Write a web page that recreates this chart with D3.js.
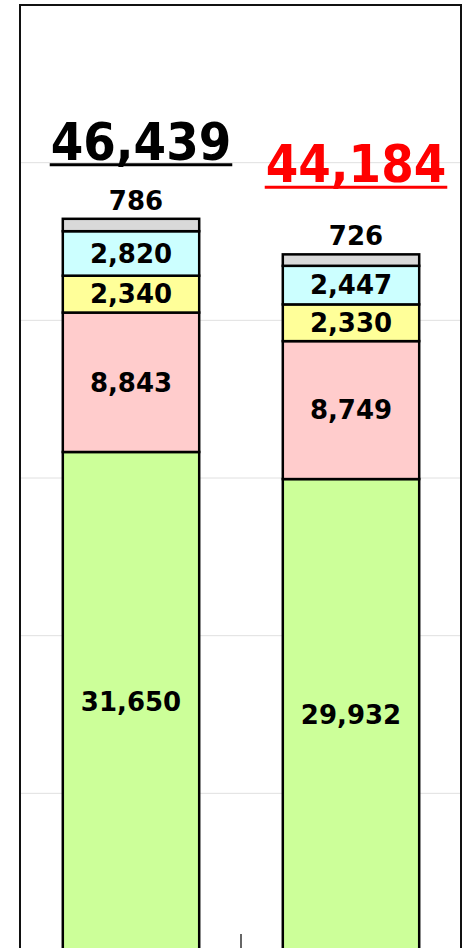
<!DOCTYPE html>
<html>
<head>
<meta charset="utf-8">
<script src="https://cdn.jsdelivr.net/npm/d3@7"></script>
<style>
  html, body { margin: 0; padding: 0; background: #fff; }
  svg { display: block; }
  text { font-family: "DejaVu Sans", sans-serif; font-weight: bold; }
  text.total { font-family: "DejaVu Sans Condensed", "DejaVu Sans", sans-serif; }
</style>
</head>
<body>
<div id="chart"></div>
<script>
// données
const categories = ['bar1', 'bar2'];
const seriesGreen = [31650, 29932];
const seriesPink = [8843, 8749];
const seriesYellow = [2340, 2330];
const seriesCyan = [2820, 2447];
const seriesGray = [786, 726];
const totals = [46439, 44184];
const yTicks = [0, 10000, 20000, 30000, 40000, 50000, 60000];

document.addEventListener('DOMContentLoaded', function () {
  const width = 465, height = 948;
  const plot = { left: 21, right: 461, top: 5, bottom: 951 };

  const svg = d3.select('#chart')
    .append('svg')
    .attr('width', width)
    .attr('height', height);

  const keys = ['green', 'pink', 'yellow', 'cyan', 'gray'];
  const colors = { green: '#ccff99', pink: '#ffcccc', yellow: '#ffff99', cyan: '#ccffff', gray: '#d9d9d9' };
  const rows = categories.map((c, i) => ({
    cat: c,
    green: seriesGreen[i],
    pink: seriesPink[i],
    yellow: seriesYellow[i],
    cyan: seriesCyan[i],
    gray: seriesGray[i]
  }));
  const stacked = d3.stack().keys(keys)(rows);

  const x = d3.scaleBand().domain(categories).range([plot.left, plot.right]);
  const y = d3.scaleLinear().domain([0, 60000]).range([plot.bottom, plot.top]);
  const barW = x.bandwidth() * 0.62;
  const barX = d => x(d) + (x.bandwidth() - barW) / 2;

  // quadrícula
  svg.append('g')
    .selectAll('line')
    .data(yTicks.slice(1, -1))
    .join('line')
    .attr('x1', plot.left)
    .attr('x2', plot.right)
    .attr('y1', d => y(d))
    .attr('y2', d => y(d))
    .attr('stroke', '#e0e0e0')
    .attr('stroke-width', 1);

  // barres apilades
  const g = svg.append('g');
  stacked.forEach(layer => {
    g.selectAll(null)
      .data(layer)
      .join('rect')
      .attr('x', d => barX(d.data.cat))
      .attr('y', d => y(d[1]))
      .attr('width', barW)
      .attr('height', d => y(d[0]) - y(d[1]))
      .attr('fill', colors[layer.key])
      .attr('stroke', '#000')
      .attr('stroke-width', 2.5);
  });

  // etiquetes dels segments (menys el gris)
  stacked.filter(l => l.key !== 'gray').forEach(layer => {
    g.selectAll(null)
      .data(layer)
      .join('text')
      .attr('x', d => x(d.data.cat) + x.bandwidth() / 2)
      .attr('y', d => (y(d[0]) + y(d[1])) / 2)
      .attr('dy', '0.36em')
      .attr('text-anchor', 'middle')
      .attr('font-size', 26)
      .attr('fill', '#000')
      .text(d => d3.format(',')(d[1] - d[0]));
  });

  // etiqueta del segment gris, damunt la barra
  const grayLayer = stacked.find(l => l.key === 'gray');
  g.selectAll(null)
    .data(grayLayer)
    .join('text')
    .attr('x', d => x(d.data.cat) + x.bandwidth() / 2 + 5)
    .attr('y', d => y(d[1]) - 9)
    .attr('text-anchor', 'middle')
    .attr('font-size', 26)
    .attr('fill', '#000')
    .text(d => d3.format(',')(d[1] - d[0]));

  // totals subratllats
  const totalColors = ['#000000', '#ff0000'];
  const totalShift = [{ dx: 10, dy: -59 }, { dx: 5, dy: -72 }];
  categories.forEach((c, i) => {
    const top = y(totals[i]);
    const cx = x(c) + x.bandwidth() / 2 + totalShift[i].dx;
    const by = top + totalShift[i].dy;
    const t = svg.append('text')
      .attr('class', 'total')
      .attr('x', cx)
      .attr('y', by)
      .attr('text-anchor', 'middle')
      .attr('font-size', 52)
      .attr('fill', totalColors[i])
      .text(d3.format(',')(totals[i]));
    const w = t.node().getComputedTextLength();
    svg.append('line')
      .attr('x1', cx - w / 2 - 1)
      .attr('x2', cx + w / 2 + 1)
      .attr('y1', by + 5)
      .attr('y2', by + 5)
      .attr('stroke', totalColors[i])
      .attr('stroke-width', 3);
  });

  // marca entre categories
  svg.append('line')
    .attr('x1', x(categories[1]))
    .attr('x2', x(categories[1]))
    .attr('y1', y(0) - 17)
    .attr('y2', y(0))
    .attr('stroke', '#333')
    .attr('stroke-width', 1.5);

  // marc de l'àrea del gràfic
  svg.append('rect')
    .attr('x', plot.left - 1)
    .attr('y', plot.top)
    .attr('width', plot.right - plot.left + 1)
    .attr('height', plot.bottom - plot.top)
    .attr('fill', 'none')
    .attr('stroke', '#111')
    .attr('stroke-width', 2);
});
</script>
</body>
</html>
